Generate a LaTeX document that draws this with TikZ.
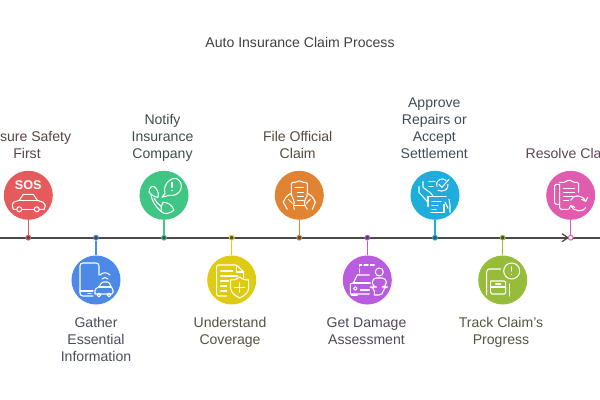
\documentclass[tikz,border=0pt]{standalone}
\usepackage{fontspec}
\setmainfont{Liberation Sans}
\usepackage{tikz}

\definecolor{redc}{HTML}{E55B5B}
\definecolor{greenc}{HTML}{3FC685}
\definecolor{bluec}{HTML}{4D8AE8}
\definecolor{yellowc}{HTML}{E0CB14}
\definecolor{orangec}{HTML}{E08433}
\definecolor{skyc}{HTML}{1FADDC}
\definecolor{purplec}{HTML}{B95CE0}
\definecolor{limec}{HTML}{96BC3A}
\definecolor{pinkc}{HTML}{E05CAE}
\definecolor{axisc}{HTML}{4A4A4A}
\definecolor{redt}{HTML}{5A4444}
\definecolor{greent}{HTML}{3F4D47}
\definecolor{bluet}{HTML}{484E5C}
\definecolor{yellowt}{HTML}{55533E}
\definecolor{oranget}{HTML}{55493F}
\definecolor{skyt}{HTML}{3F4C55}
\definecolor{purplet}{HTML}{52465A}
\definecolor{limet}{HTML}{53553F}
\definecolor{pinkt}{HTML}{5C4655}

\tikzset{
  disc/.style={circle,fill=#1,minimum size=1.225cm,inner sep=0pt},
  tick/.style={circle,draw=#1,fill=axisc,line width=0.7pt,minimum size=0.12cm,inner sep=0pt},
  stem/.style={draw=#1,line width=1pt},
  lbl/.style={align=center,font=\fontsize{10}{12.1}\selectfont,text=#1,execute at begin node=\strut,execute at end node=\strut},
  icon/.style={draw=white,line width=0.75pt,line join=round,line cap=round},
}

\begin{document}
\begin{tikzpicture}[x=0.025cm,y=-0.025cm]
\useasboundingbox (0,0) rectangle (600,400);

\node[lbl=black!75] (title) at (300,44.5) {Auto Insurance Claim Process};

\coordinate (axisl) at (0,237.7);
\coordinate (axisr) at (600,237.7);
\draw[axisc,line width=1.25pt] (axisl) -- (axisr);
\coordinate (chevt) at (562,233.7);
\coordinate (chevm) at (568,237.7);
\coordinate (chevb) at (562,241.7);
\draw[axisc,line width=0.9pt] (chevt) -- (chevm) -- (chevb);

\node[disc=redc] (sos) at (28.3,195.3) {};
\node[disc=bluec] (gather) at (96,280) {};
\node[disc=greenc] (notify) at (164,195.3) {};
\node[disc=yellowc] (cover) at (231.7,280) {};
\node[disc=orangec] (file) at (299.3,195.3) {};
\node[disc=purplec] (damage) at (367.3,280) {};
\node[disc=skyc] (approve) at (435,195.3) {};
\node[disc=limec] (track) at (502.7,280) {};
\node[disc=pinkc] (resolve) at (570.7,195.3) {};

\node[tick=redc] (tsos) at (28.3,237.7) {};
\node[tick=bluec] (tgather) at (96,237.7) {};
\node[tick=greenc] (tnotify) at (164,237.7) {};
\node[tick=yellowc] (tcover) at (231.7,237.7) {};
\node[tick=orangec] (tfile) at (299.3,237.7) {};
\node[tick=purplec] (tdamage) at (367.3,237.7) {};
\node[tick=skyc] (tapprove) at (435,237.7) {};
\node[tick=limec] (ttrack) at (502.7,237.7) {};
\node[tick=pinkc,fill=white] (tresolve) at (570.7,237.7) {};

\draw[stem=redc] (sos) -- (tsos);
\draw[stem=bluec] (gather) -- (tgather);
\draw[stem=greenc] (notify) -- (tnotify);
\draw[stem=yellowc] (cover) -- (tcover);
\draw[stem=orangec] (file) -- (tfile);
\draw[stem=purplec] (damage) -- (tdamage);
\draw[stem=skyc] (approve) -- (tapprove);
\draw[stem=limec] (track) -- (ttrack);
\draw[stem=pinkc] (resolve) -- (tresolve);

\node[lbl=redt,anchor=south] (lsos) at (27,168.8) {Ensure Safety\\First};
\node[lbl=bluet,anchor=north] (lgather) at (96,312.7) {Gather\\Essential\\Information};
\node[lbl=greent,anchor=south] (lnotify) at (162.5,168.8) {Notify\\Insurance\\Company};
\node[lbl=yellowt,anchor=north] (lcover) at (230,312.7) {Understand\\Coverage};
\node[lbl=oranget,anchor=south] (lfile) at (297.7,168.8) {File Official\\Claim};
\node[lbl=purplet,anchor=north] (ldamage) at (366.5,312.7) {Get Damage\\Assessment};
\node[lbl=skyt,anchor=south] (lapprove) at (434.3,168.8) {Approve\\Repairs or\\Accept\\Settlement};
\node[lbl=limet,anchor=north] (ltrack) at (501,312.7) {Track Claim's\\Progress};
\node[lbl=pinkt,anchor=south] (lresolve) at (571,168.8) {Resolve Claim};

% sos
\begin{scope}[shift={(sos.center)}]
\node[text=white,font=\fontsize{9}{12}\bfseries\selectfont,inner sep=0pt] (sostext) at (0,-10.5) {SOS};
\draw[icon] (-12,14) -- (-15,14) -- (-16,10) -- (-15,7) -- (-9,5) -- (-5,-1) -- (5,-1) -- (9,5) -- (15,7) -- (17,10) -- (16,14) -- (11,14);
\draw[icon] (-6,14) -- (6,14);
\draw[icon] (-9,5) -- (9,5);
\draw[icon] (-9,14) circle[radius=2.5];
\draw[icon] (8.5,14) circle[radius=2.5];
\end{scope}

% gather
\begin{scope}[shift={(gather.center)}]
\draw[icon,rounded corners=2] (3,-5) -- (3,-17) -- (-16,-17) -- (-16,16) -- (-3,16);
\draw[icon] (-16,11) -- (-3,11);
\draw[icon] (-8,13.5) -- (-5,13.5);
\draw[icon,rounded corners=1] (-1,14) -- (-1,9) -- (3,7) -- (6,2) -- (13,2) -- (15,7) -- (17,9) -- (17,14) -- (-1,14);
\draw[icon] (3,7) -- (15,7);
\draw[icon] (3,15) circle[radius=1.8];
\draw[icon] (13,15) circle[radius=1.8];
\draw[icon] (6,-1) .. controls (8,-3) and (10,-3) .. (12,-1);
\draw[icon] (4,-5) .. controls (7,-8) and (11,-8) .. (14,-5);
\end{scope}

% notify
\begin{scope}[shift={(notify.center)}]
\draw[icon] (1,-2) .. controls (-2,-12) and (10,-21) .. (15,-15) .. controls (21,-9) and (15,2) .. (5,0) -- (-2,2) -- (1,-2);
\draw[icon] (8,-13) -- (8,-8);
\draw[icon] (8,-5) -- (8,-4.8);
\draw[icon] (-15,-3) .. controls (-15,-9) and (-11,-10) .. (-9,-8) .. controls (-6,-5) and (-5,-1) .. (-6,2) .. controls (-9,2) and (-12,0) .. (-15,-3);
\draw[icon] (-13,0) .. controls (-12,6) and (-8,12) .. (-3,16);
\draw[icon] (-10,3) .. controls (-8,6) and (-6,9) .. (-3,11);
\draw[icon] (-3,16) .. controls (0,20) and (6,18) .. (10,15) .. controls (8,9) and (3,7) .. (-1,7) .. controls (-3,10) and (-3,13) .. (-3,16);
\end{scope}

% understand
\begin{scope}[shift={(cover.center)}]
\draw[icon,rounded corners=1] (-5,16) -- (-15,16) -- (-15,-15) -- (5,-15) -- (12,-8) -- (12,-2);
\draw[icon] (5,-15) -- (5,-8) -- (12,-8);
\draw[icon] (-11,-9) -- (1,-9);
\draw[icon] (-11,-4) -- (6,-4);
\draw[icon] (-11,1) -- (-3,1);
\draw[icon] (-11,6) -- (-5,6);
\draw[icon] (-11,11) -- (-5,11);
\draw[icon] (8,-3) .. controls (4,0) and (2,0) .. (-1,0) -- (-1,8) .. controls (-1,13) and (4,16) .. (8,18) .. controls (12,16) and (17,13) .. (17,8) -- (17,0) .. controls (14,0) and (12,0) .. (8,-3);
\draw[icon] (8,3) -- (8,12);
\draw[icon] (3,7.5) -- (13,7.5);
\end{scope}

% file
\begin{scope}[shift={(file.center)}]
\draw[icon,rounded corners=1] (-8,-2) -- (-8,-13) -- (-3,-13) -- (0,-15) -- (3,-13) -- (8,-13) -- (8,-2);
\draw[icon] (-6,10) -- (6,10);
\draw[icon] (-4,-8) -- (4,-8);
\draw[icon] (-2,-3) -- (4,-3);
\draw[icon] (-2,1) -- (4,1);
\draw[icon] (-2,5) -- (4,5);
\draw[icon] (-16,7) .. controls (-14,2) and (-12,0) .. (-8,-2) .. controls (-8,2) and (-5,4) .. (-5,7) .. controls (-6,10) and (-6,12) .. (-5,14);
\draw[icon] (-16,7) -- (-12,14);
\draw[icon] (-11,4) -- (-7,8);
\draw[icon] (16,7) .. controls (14,2) and (12,0) .. (8,-2) .. controls (8,2) and (5,4) .. (5,7) .. controls (6,10) and (6,12) .. (8,14);
\draw[icon] (16,7) -- (13,14);
\draw[icon] (11,4) -- (7,8);
\end{scope}

% damage
\begin{scope}[shift={(damage.center)}]
\draw[icon,dashed,dash pattern=on 3pt off 1.5pt] (-8,-7) -- (-8,-15) -- (7,-15);
\draw[icon] (12,-8) circle[radius=4];
\draw[icon,rounded corners=3] (7,15) -- (7,7) -- (5,7) -- (5,-2) -- (19,-2) -- (19,7) -- (16,7) -- (16,15) -- (7,15);
\draw[icon] (2,-5) -- (-10,-5) -- (-14,3) -- (-17,4) -- (-17,14) -- (2,14);
\draw[icon] (-14,3) -- (3,3);
\draw[icon] (-16,15) -- (-10,15);
\draw[icon] (-12,8.5) circle[radius=1.8];
\draw[icon] (-7,10) -- (2,10);
\end{scope}

% approve
\begin{scope}[shift={(approve.center)}]
\draw[icon] (-7,11) -- (-7,1) -- (11,1);
\draw[icon] (-4,17) -- (9,17) -- (9,9);
\draw[icon] (-3,6) -- (6,6);
\draw[icon] (-3,10) -- (3,10);
\draw[icon] (-3,14) -- (1,14);
\draw[icon] (-6,-14) -- (0,-14);
\draw[icon] (-6,-9) -- (-2,-9);
\draw[icon] (2,-9) .. controls (0,-16) and (8,-18) .. (11,-15);
\draw[icon] (13,-11) .. controls (14,-5) and (7,-3) .. (3,-5);
\draw[icon] (4,-11) -- (7,-8) -- (14,-16);
\draw[icon] (-16,-9) -- (-16,-3) -- (-8,6);
\draw[icon] (-12,-14) -- (-12,-8) -- (-4,-2) -- (-2,1);
\draw[icon] (14,4) -- (15,10) -- (15,17);
\draw[icon] (10,7) -- (13,13);
\end{scope}

% track
\begin{scope}[shift={(track.center)}]
\draw[icon] (9,-9) circle[radius=8];
\draw[icon] (9,-13) -- (9,-9);
\draw[icon] (9,-5.5) -- (9,-5.3);
\draw[icon,rounded corners=2] (-16,15) -- (-16,-11) -- (-2,-11);
\draw[icon,rounded corners=1] (-12,1) -- (3,1) -- (3,14) -- (-12,14) -- (-12,1);
\draw[icon] (-12,7) -- (3,7);
\draw[icon] (-7,4) -- (-2,4);
\draw[icon] (7,4) -- (7,16);
\end{scope}

% resolve
\begin{scope}[shift={(resolve.center)}]
\draw[icon,rounded corners=1] (-3,14) -- (-11,14) -- (-11,-11);
\draw[icon,rounded corners=1] (-11,-11) -- (-16,-11) -- (-16,9) -- (-11,9);
\draw[icon,rounded corners=1] (-11,-13) -- (-5,-13) -- (-4,-15) -- (1,-15) -- (2,-13) -- (8,-13) -- (8,-3);
\draw[icon] (-7,-7) -- (4,-7);
\draw[icon] (-7,-3) -- (4,-3);
\draw[icon] (-7,1) -- (2,1);
\draw[icon] (-7,5) -- (-2,5);
\draw[icon] (0,5) .. controls (2,-1) and (12,-1) .. (15,6);
\draw[icon] (17,2) -- (15,6) -- (11,4);
\draw[icon] (15,12) .. controls (13,17) and (3,17) .. (0,10);
\draw[icon] (-2,14) -- (0,10) -- (4,12);
\end{scope}
\end{tikzpicture}
\end{document}
